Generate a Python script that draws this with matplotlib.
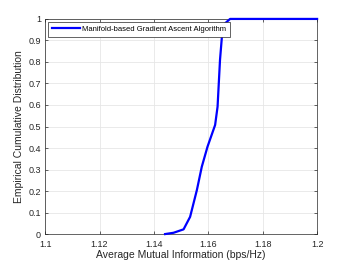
import matplotlib
matplotlib.use("Agg")
import matplotlib.pyplot as plt

# CDF of average mutual information
mi_values = [1.1441, 1.1472, 1.1509, 1.1533, 1.1558, 1.1576, 1.1597, 1.1625,
             1.1634, 1.1643, 1.1650, 1.1662, 1.1680, 1.2000]
cdf_values = [0.0, 0.006, 0.022, 0.08, 0.205, 0.313, 0.406, 0.507,
              0.592, 0.81, 0.918, 0.98, 1.0, 1.0]
x_ticks = [1.1, 1.12, 1.14, 1.16, 1.18, 1.2]
y_ticks = [0, 0.1, 0.2, 0.3, 0.4, 0.5, 0.6, 0.7, 0.8, 0.9, 1]

plt.rcParams["font.family"] = ["Liberation Sans", "DejaVu Sans"]

fig = plt.figure(figsize=(3.5, 2.63), dpi=100)
ax = fig.add_axes([0.129, 0.110, 0.777, 0.818])

ax.plot(mi_values, cdf_values, color="#0000ff", linewidth=1.6, clip_on=False,
        zorder=3, label="Manifold-based Gradient Ascent Algorithm")

ax.set_xlim(1.1, 1.2)
ax.set_ylim(0, 1)
ax.set_xticks(x_ticks)
ax.set_xticklabels([f"{v:g}" for v in x_ticks])
ax.set_yticks(y_ticks)
ax.set_yticklabels([f"{v:g}" for v in y_ticks])
ax.grid(True, color="#e6e6e6", linewidth=0.6)
ax.set_axisbelow(True)
ax.tick_params(direction="in", length=2.5, width=0.5, labelsize=6.5,
               colors="#262626", top=True, right=True)
ax.tick_params(axis="x", pad=4)
ax.tick_params(axis="y", pad=3)
for spine in ax.spines.values():
    spine.set_color("#262626")
    spine.set_linewidth(0.5)

ax.set_xlabel("Average Mutual Information (bps/Hz)", fontsize=7.5,
              color="#262626", labelpad=1)
ax.set_ylabel("Empirical Cumulative Distribution", fontsize=7.5,
              color="#262626", labelpad=3)

leg = ax.legend(loc="upper left", fontsize=5.5, fancybox=False,
                edgecolor="#262626", framealpha=1, handlelength=3.6,
                borderaxespad=0.35, borderpad=0.55, handletextpad=0.3)
leg.get_frame().set_linewidth(0.5)
leg.set_zorder(5)

fig.savefig("out.png", dpi=100)
plt.close(fig)
